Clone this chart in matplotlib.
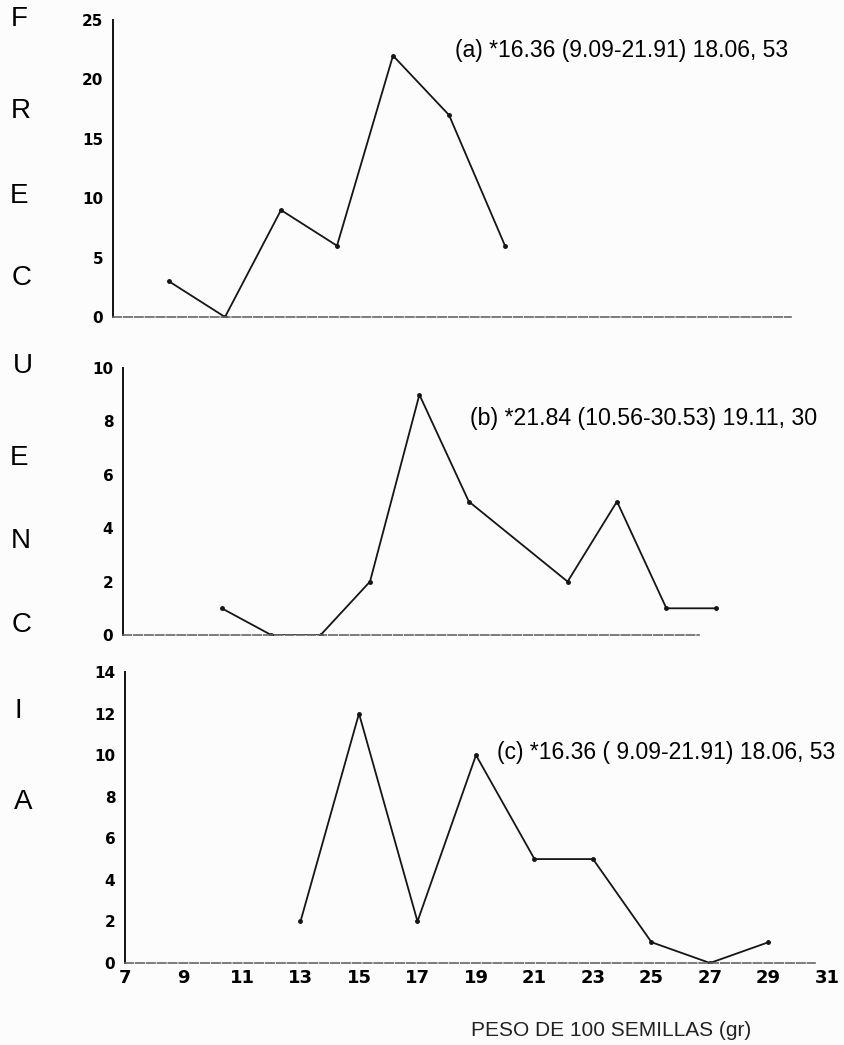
import matplotlib
matplotlib.use('Agg')
import matplotlib.pyplot as plt

# clases de peso de 100 semillas (g) y frecuencias de cada muestra
x_a = [9, 11, 13, 15, 17, 19, 21]
f_a = [3, 0, 9, 6, 22, 17, 6]

x_b = [11, 13, 15, 17, 19, 21, 25, 27, 29, 31]
f_b = [1, 0, 0, 2, 9, 5, 2, 5, 1, 1]

x_c = [13, 15, 17, 19, 21, 23, 25, 27, 29]
f_c = [2, 12, 2, 10, 5, 5, 1, 0, 1]

x_ticks = list(range(7, 32, 2))
yt_a = [0, 5, 10, 15, 20, 25]
yt_b = [0, 2, 4, 6, 8, 10]
yt_c = [0, 2, 4, 6, 8, 10, 12, 14]

notas = ['(a) *16.36 (9.09-21.91) 18.06, 53',
         '(b) *21.84 (10.56-30.53) 19.11, 30',
         '(c) *16.36 ( 9.09-21.91) 18.06, 53']
titulo_y = 'FRECUENCIA'
titulo_x = 'PESO DE 100 SEMILLAS (gr)'

W, H = 845, 1045
fig = plt.figure(figsize=(W / 100, H / 100), dpi=100)
fig.patch.set_facecolor('#fcfcfc')

sans = ['Liberation Sans', 'DejaVu Sans']


def panel(left, top, px_unit, bottom, ymax, xend):
    right = left + 24.5 * px_unit
    ax = fig.add_axes([left / W, 1 - bottom / H, (right - left) / W, (bottom - top) / H])
    ax.set_xlim(7, 31.5)
    ax.set_ylim(0, ymax)
    ax.set_facecolor('none')
    for s in ('top', 'right'):
        ax.spines[s].set_visible(False)
    ax.spines['left'].set_linewidth(1.4)
    ax.spines['left'].set_color('#111111')
    ax.spines['bottom'].set_color('#666666')
    ax.spines['bottom'].set_linestyle((0, (5, 1.5)))
    ax.spines['bottom'].set_linewidth(1.2)
    ax.spines['bottom'].set_bounds(7, xend)
    ax.tick_params(length=0)
    return ax


ax_a = panel(113, 20, 28.0, 317, 25, 31.2)
ax_b = panel(123, 368, 24.7, 635, 10, 30.3)
ax_c = panel(125, 672, 29.25, 963, 14, 30.6)

for ax, xs, fs, yt in ((ax_a, x_a, f_a, yt_a), (ax_b, x_b, f_b, yt_b), (ax_c, x_c, f_c, yt_c)):
    ax.plot(xs, fs, color='#151515', lw=1.3, marker='o', ms=2.5)
    ax.set_yticks(yt)
    ax.set_yticklabels([str(v) for v in yt], fontsize=11, fontweight='bold',
                       family='DejaVu Sans')
    ax.tick_params(axis='y', pad=7)

for ax in (ax_a, ax_b):
    ax.set_xticks([])

ax_c.set_xticks(x_ticks)
ax_c.set_xticklabels([str(v) for v in x_ticks], fontsize=13, fontweight='bold',
                     family='DejaVu Sans')
ax_c.tick_params(axis='x', pad=4)

# notas de cada muestra
fig.text(455 / W, 1 - 50 / H, notas[0], fontsize=16.5, family=sans, va='center', ha='left')
fig.text(470 / W, 1 - 419 / H, notas[1], fontsize=16.7, family=sans, va='center', ha='left')
fig.text(497 / W, 1 - 752 / H, notas[2], fontsize=16.5, family=sans, va='center', ha='left')

# eje vertical escrito letra por letra
pos_y = [19, 111, 196, 278, 366, 458, 541, 625, 711, 802]
pos_x = [19, 21, 19, 22, 23, 19, 21, 22, 18, 23]
for ch, xx, yy in zip(titulo_y, pos_x, pos_y):
    fig.text(xx / W, 1 - yy / H, ch, fontsize=20, family=sans,
             ha='center', va='center')

fig.text(611 / W, 1 - 1030 / H, titulo_x, fontsize=15, family=sans,
         ha='center', va='center', color='#222222')

fig.savefig('out.png', dpi=100, facecolor=fig.get_facecolor())
